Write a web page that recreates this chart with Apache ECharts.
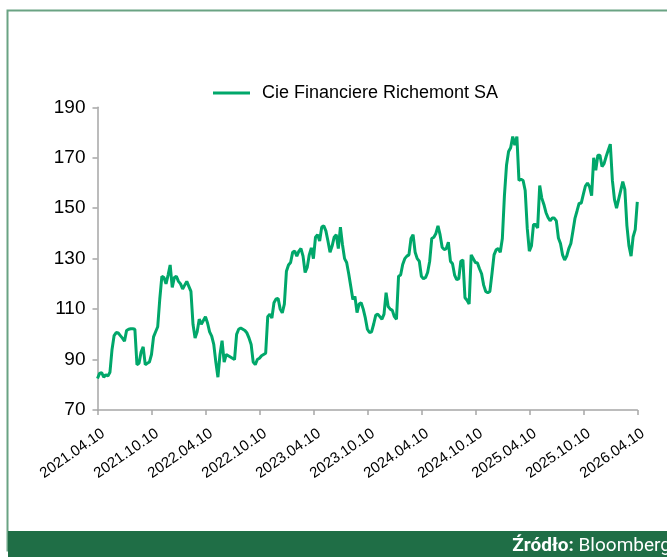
<!DOCTYPE html>
<html>
<head>
<meta charset="utf-8">
<script src="https://cdn.jsdelivr.net/npm/echarts@6/dist/echarts.min.js"></script>
<style>
  html, body { margin: 0; padding: 0; background: #fff; }
  #chart { width: 667px; height: 557px; }
</style>
</head>
<body>
<div id="chart"></div>
<script>
// weekly closes, 2021.04.10 .. 2026.04.10
const seriesName = 'Cie Financiere Richemont SA';
const prices = [
  82.5, 84.5, 84.8, 83, 84, 83.5, 85, 94, 99.5, 100.7,
  100.5, 99.5, 98.5, 97.3, 101.5, 102, 102.2, 102.2, 102, 88,
  88.5, 93, 95, 88, 88.5, 89, 92, 99, 101, 103,
  114, 123, 122.5, 120, 123.5, 127.5, 118.6, 122.5, 123, 121,
  120, 118, 119.5, 121, 119, 117, 104, 98.5, 101, 106,
  104, 105.5, 107, 104.5, 101, 99.3, 96, 89, 83, 92,
  97.5, 89, 92, 91.5, 91, 90.5, 90, 100, 102, 102.5,
  102, 101.5, 100.5, 98.5, 96, 89, 88, 90, 90.5, 91.5,
  92, 92.5, 107, 108, 106.5, 112.5, 114, 114.2, 110, 108.5,
  112, 125, 127.5, 128.5, 132.5, 133, 131, 133, 134, 131,
  124.5, 126.5, 131.5, 134.3, 130, 138.5, 139.5, 137, 142.5, 143,
  141, 137, 132.5, 135, 138.5, 139.5, 134, 142.5, 135.5, 130,
  128.5, 124, 119, 113.8, 115, 108.6, 112, 112.5, 110, 106.5,
  102, 100.7, 101, 104, 107.5, 108, 107, 106, 108, 116.5,
  111, 110, 109.5, 107, 106, 123, 123.5, 127.7, 130, 131,
  131.5, 138, 139.5, 132.5, 130, 129, 123, 122, 122.5, 124.5,
  129, 138, 138.5, 140, 143, 139.5, 134.5, 133.6, 134, 136.5,
  129, 128, 123.5, 121.7, 122, 129, 129.5, 114.5, 113.5, 112,
  131.5, 130, 128.5, 128.3, 126, 124, 119.5, 117, 116.5, 117,
  124, 131.5, 133.5, 134, 132.5, 138, 155, 167, 172.5, 174,
  178.4, 175, 178.4, 161, 161.5, 161, 157, 142, 133, 135,
  143.5, 143.5, 142.2, 159, 154, 151.5, 148.3, 146.3, 145, 146.1,
  146.1, 145, 138.2, 136, 131.5, 129.5, 131, 134, 136, 141,
  146.1, 149, 152, 152, 155.5, 158.8, 160, 158.5, 155, 170,
  165, 171, 171, 166.5, 167.7, 170.5, 173, 175.4, 161, 153.5,
  150, 153.5, 157, 160.5, 157.5, 143, 135, 131, 138.7, 141.5,
  152.5
];
const tickLabels = [
  '2021.04.10', '2021.10.10', '2022.04.10', '2022.10.10', '2023.04.10', '2023.10.10',
  '2024.04.10', '2024.10.10', '2025.04.10', '2025.10.10', '2026.04.10'
];
const ticksEvery = 26; // weeks per half-year
const yTicks = { min: 70, max: 190, step: 20 };

const categories = prices.map((_, i) => i);
const isTick = (i) => i % ticksEvery === 0;

const chart = echarts.init(document.getElementById('chart'), null, { renderer: 'canvas' });
chart.setOption({
  animation: false,
  backgroundColor: '#ffffff',
  textStyle: { fontFamily: 'Liberation Sans' },
  legend: {
    left: 213,
    top: 84,
    padding: 0,
    icon: 'rect',
    itemWidth: 37,
    itemHeight: 3,
    textStyle: { fontSize: 18, color: '#000', padding: [0, 0, 0, 7] },
    data: [seriesName]
  },
  grid: { left: 97.5, right: 29.7, top: 107.3, bottom: 147 },
  xAxis: {
    type: 'category',
    boundaryGap: false,
    data: categories,
    axisLine: { lineStyle: { color: '#a6a6a6', width: 1.5 } },
    axisTick: { interval: isTick, length: 5, lineStyle: { color: '#a6a6a6', width: 1.5 } },
    axisLabel: {
      interval: isTick,
      rotate: 35,
      margin: 26,
      fontSize: 15,
      color: '#000',
      padding: [0, -7, 0, 0],
      formatter: (v, i) => tickLabels[i / ticksEvery]
    },
    splitLine: { show: false }
  },
  yAxis: {
    type: 'value',
    min: yTicks.min,
    max: yTicks.max,
    interval: yTicks.step,
    axisLine: { show: true, lineStyle: { color: '#a6a6a6', width: 1.5 } },
    axisTick: { show: true, length: 5, lineStyle: { color: '#a6a6a6', width: 1.5 } },
    axisLabel: { fontSize: 19, color: '#000', margin: 12 },
    splitLine: { show: false }
  },
  series: [{
    name: seriesName,
    type: 'line',
    data: prices,
    symbol: 'none',
    lineStyle: { color: '#00a76a', width: 3 },
    itemStyle: { color: '#00a76a' }
  }],
  graphic: [
    {
      type: 'rect',
      shape: { x: 7.5, y: 10.5, width: 720, height: 540 },
      style: { fill: 'none', stroke: '#6aa383', lineWidth: 2 },
      silent: true
    },
    {
      type: 'rect',
      shape: { x: 8, y: 531, width: 670, height: 30 },
      style: { fill: '#1f6e46' },
      silent: true
    },
    {
      type: 'text',
      x: 671,
      y: 546,
      style: {
        text: '{b|Źródło:} Bloomberg',
        align: 'right',
        verticalAlign: 'middle',
        fill: '#ffffff',
        font: '19px Roboto',
        rich: {
          b: { fontWeight: 'bold', fontSize: 19, fontFamily: 'Roboto', fill: '#ffffff' }
        }
      },
      silent: true
    }
  ]
});
</script>
</body>
</html>
